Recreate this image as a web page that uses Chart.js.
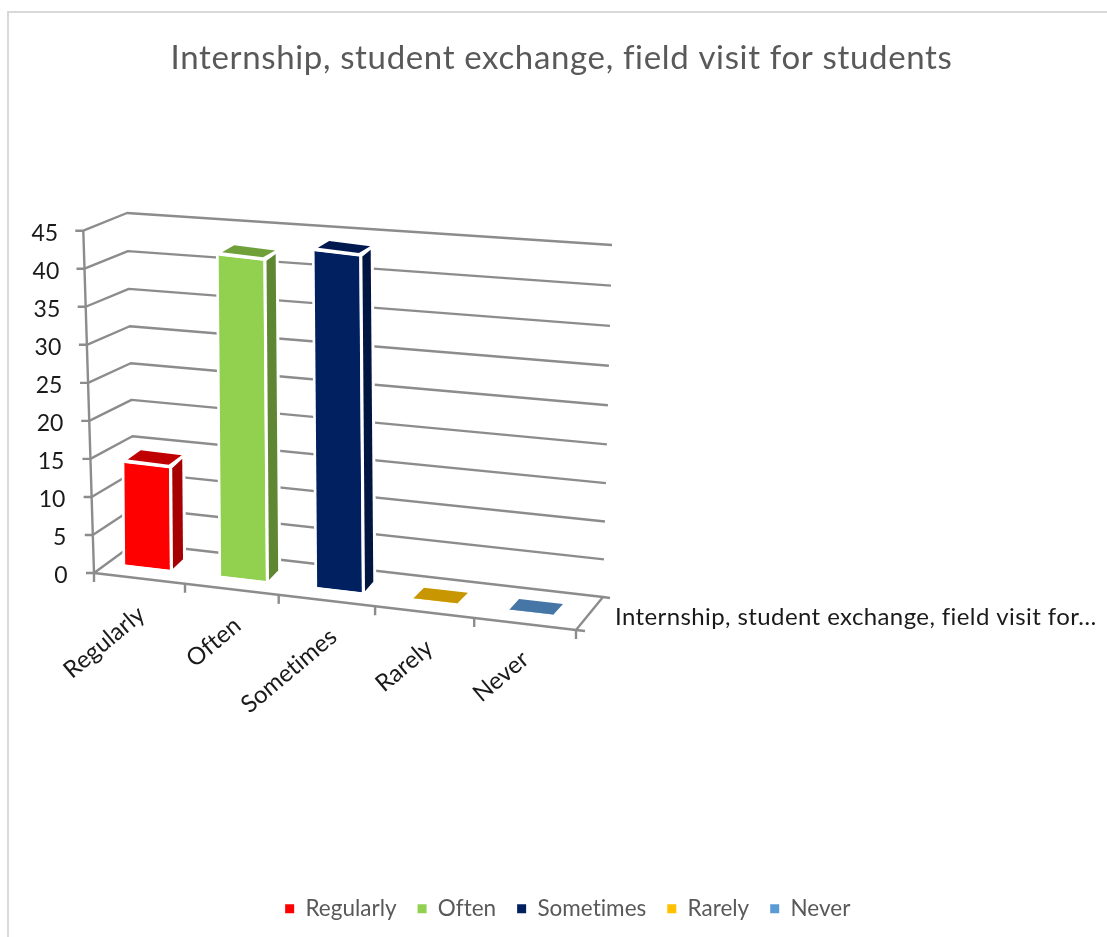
<!DOCTYPE html>
<html><head><meta charset="utf-8">
<script src="https://cdn.jsdelivr.net/npm/chart.js@4"></script>
<style>html,body{margin:0;padding:0;background:#fff;overflow:hidden}canvas{display:block}</style>
</head><body><canvas id="c" width="1107" height="937"></canvas>
<script>
const chartTitle = 'Internship, student exchange, field visit for students';
const seriesLabel = 'Internship, student exchange, field visit for…';
const categories = ['Regularly', 'Often', 'Sometimes', 'Rarely', 'Never'];
const values = [13, 41, 43, 0, 0];
const frontColors = ['#FF0000', '#92D050', '#002060', '#FFC000', '#5B9BD5'];
const topColors = ['#C00000', '#6FA03A', '#001A50', '#C79600', '#4676A6'];
const sideColors = ['#A60000', '#5F8633', '#00153F', '#A67D00', '#3B6388'];
const yTicks = { min: 0, max: 45, step: 5 };

const FONT = 'Lato';
const GRID = '#8c8c8c';
const K = 0.117, S = 1.03, LEAN = 0.008, BASE = 572, X0 = 190.3;
const proj = (x, y) => [x + LEAN * (y - BASE), K * (x - X0) + BASE + S * (y - BASE)];
const lerp = (a, b, t) => [a[0] + (b[0] - a[0]) * t, a[1] + (b[1] - a[1]) * t];
const wall = {
  A0: [94, 573], A1: [83.3, 230.7],
  B0: [135, 543], B1: [127, 213],
  C0: [603, 597], C1: [612, 245],
  F: [576, 630]
};
function poly(ctx, pts) {
  ctx.beginPath();
  pts.forEach((p, i) => i ? ctx.lineTo(p[0], p[1]) : ctx.moveTo(p[0], p[1]));
  ctx.closePath();
}
function seg(ctx, a, b) {
  ctx.beginPath(); ctx.moveTo(a[0], a[1]); ctx.lineTo(b[0], b[1]); ctx.stroke();
}
const depth = (x, h) => [13 - (x - 150) * 0.009, -10.5 + 4 * h / 340];

const scene = {
  id: 'scene',
  afterLayout(chart) {
    const lg = chart.legend;
    if (lg && !lg._shifted) { lg._shifted = true; lg.left += 6; lg.right += 6; }
  },
  beforeDraw(chart) {
    const { ctx, scales: { x: xs, y: ys } } = chart;
    ctx.letterSpacing = '0.01px';
    if (!xs._wrapped) {
      xs._wrapped = true;
      const ox = xs.getLabelItems.bind(xs);
      xs.getLabelItems = a => ox(a).map(it => {
        const t = it.options.translation;
        return { ...it, options: { ...it.options, translation: [t[0] - 6, t[1] + K * (t[0] - X0) + 26] } };
      });
      const oy = ys.getLabelItems.bind(ys);
      ys.getLabelItems = a => oy(a).map(it => {
        const t = it.options.translation;
        return { ...it, options: { ...it.options, translation: [t[0] - 9.3 * (BASE - t[1]) / 341, t[1] + 3] } };
      });
      const tb = chart.titleBlock, td = tb.draw.bind(tb);
      tb.draw = (...args) => { ctx.letterSpacing = '0.65px'; td(...args); ctx.letterSpacing = '0.01px'; };
    }
    ctx.save();
    ctx.strokeStyle = '#d9d9d9'; ctx.lineWidth = 2;
    ctx.beginPath(); ctx.moveTo(8, 937); ctx.lineTo(8, 12); ctx.lineTo(1107, 12); ctx.stroke();
    ctx.restore();
  },
  beforeDatasetsDraw(chart) {
    const { ctx, scales: { x: xs, y: ys } } = chart;
    ctx.save();
    ctx.strokeStyle = GRID; ctx.lineWidth = 2.4; ctx.lineJoin = 'round';
    ys.ticks.forEach(tk => {
      const t0 = (ys.bottom - ys.getPixelForValue(tk.value)) / (ys.bottom - ys.top);
      const t = t0 - 0.044 * t0 * (1 - t0);
      const a = lerp(wall.A0, wall.A1, t0), b = lerp(wall.B0, wall.B1, t), c = lerp(wall.C0, wall.C1, t);
      ctx.beginPath(); ctx.moveTo(a[0] - 8, a[1]); ctx.lineTo(a[0], a[1]); ctx.lineTo(b[0], b[1]); ctx.lineTo(c[0], c[1]); ctx.stroke();
    });
    seg(ctx, wall.A0, wall.A1);
    ctx.beginPath(); ctx.moveTo(wall.A0[0], wall.A0[1]); ctx.lineTo(wall.F[0], wall.F[1]); ctx.lineTo(wall.C0[0], wall.C0[1]); ctx.lineTo(wall.C0[0] + 7, wall.C0[1] + 1); ctx.stroke();
    seg(ctx, wall.F, [wall.F[0] + 9, wall.F[1] + 1]);
    for (let i = 0; i <= categories.length; i++) {
      const t0 = i / categories.length, t = t0 - 0.07 * t0 * (1 - t0);
      const p = lerp(wall.A0, wall.F, t);
      seg(ctx, p, [p[0], p[1] + 9]);
    }
    const meta = chart.getDatasetMeta(0);
    meta.data.forEach(el => {
      const r = el.getProps(['x', 'y', 'base', 'width']);
      if (Math.abs(r.base - r.y) < 0.5) return;
      const L = r.x - r.width / 2, R = r.x + r.width / 2;
      const pts = [proj(L, r.y), proj(R, r.y), proj(R, r.base), proj(L, r.base)];
      poly(ctx, pts);
      ctx.strokeStyle = '#fff'; ctx.lineWidth = 6; ctx.stroke();
      ctx.fillStyle = '#fff'; ctx.fill();
    });
    ctx.restore();
    ctx.save();
    ctx.transform(1, K, LEAN, S, -LEAN * BASE, BASE - S * BASE - K * X0);
  },
  afterDatasetsDraw(chart) {
    const { ctx } = chart;
    ctx.restore();
    ctx.save();
    ctx.lineJoin = 'round';
    const meta = chart.getDatasetMeta(0);
    meta.data.forEach((el, i) => {
      const r = el.getProps(['x', 'y', 'base', 'width']);
      const h = r.base - r.y;
      const L = r.x - r.width / 2, R = r.x + r.width / 2;
      const dT = depth(r.x, h), dB = depth(r.x, 0);
      if (h < 0.5) {
        const a = proj(L, r.y), b = proj(R, r.y);
        ctx.fillStyle = topColors[i];
        poly(ctx, [a, b, [b[0] + dB[0], b[1] + dB[1]], [a[0] + dB[0], a[1] + dB[1]]]);
        ctx.fill();
        return;
      }
      const ft = proj(R, r.y), fb = proj(R, r.base);
      const side = [[ft[0] + 3.5, ft[1]], [ft[0] + 3.5 + dT[0] - 3, ft[1] + dT[1]], [fb[0] + 3.5 + dB[0] - 3, fb[1] + dB[1]], [fb[0] + 3.5, fb[1] - 1]];
      poly(ctx, side); ctx.strokeStyle = '#fff'; ctx.lineWidth = 6; ctx.stroke();
      const tl = proj(L, r.y);
      const p1 = [tl[0] + 3, tl[1] - 3.5], p2 = [ft[0], ft[1] - 3.5];
      const topF = [p1, p2, [p2[0] + dT[0], p2[1] + dT[1]], [p1[0] + dT[0], p1[1] + dT[1]]];
      poly(ctx, topF); ctx.stroke();
      ctx.fillStyle = '#fff';
      poly(ctx, [tl, ft, side[0], side[1], topF[2], topF[3], p1]); ctx.fill();
      poly(ctx, side); ctx.fillStyle = sideColors[i]; ctx.fill();
      poly(ctx, topF); ctx.fillStyle = topColors[i]; ctx.fill();
    });
    ctx.restore();
  },
  afterDraw(chart) {
    const { ctx } = chart;
    ctx.save();
    ctx.font = '24px ' + FONT;
    ctx.letterSpacing = '0.4px';
    ctx.fillStyle = '#1a1a1a';
    ctx.textAlign = 'left'; ctx.textBaseline = 'middle';
    ctx.fillText(seriesLabel, 615, 617);
    ctx.restore();
  }
};

new Chart(document.getElementById('c'), {
  type: 'bar',
  data: {
    labels: categories,
    datasets: [{
      label: seriesLabel,
      data: values,
      backgroundColor: frontColors,
      borderWidth: 0,
      barThickness: 44
    }]
  },
  plugins: [scene],
  options: {
    responsive: false,
    animation: false,
    events: [],
    layout: { padding: { left: 16, right: 0, top: 0, bottom: 7 } },
    scales: {
      x: {
        grid: { display: false }, border: { display: false },
        ticks: { autoSkip: false, minRotation: 40, maxRotation: 40, padding: 0, color: '#1a1a1a', font: { family: FONT, size: 24 } },
        afterFit(s) { s.height = 304.4; }
      },
      y: {
        min: yTicks.min, max: yTicks.max,
        grid: { display: false, drawTicks: false }, border: { display: false },
        ticks: { stepSize: yTicks.step, padding: 32, color: '#1a1a1a', font: { family: FONT, size: 23 } },
        afterFit(s) { s.width = 83.5; }
      },
      y2: {
        position: 'right', min: 0, max: 1,
        grid: { display: false }, border: { display: false },
        ticks: { display: false },
        afterFit(s) { s.width = 527.5; }
      }
    },
    plugins: {
      tooltip: { enabled: false },
      title: {
        display: true, text: chartTitle, color: '#595959',
        font: { family: FONT, size: 33, weight: 'normal', lineHeight: 1.2 },
        padding: { top: 38.5, bottom: 152.9 }
      },
      legend: {
        position: 'bottom',
        labels: {
          color: '#595959', font: { family: FONT, size: 22.5 }, boxWidth: 9, boxHeight: 9, padding: 21,
          generateLabels: () => categories.map((c, i) => ({ text: c, fillStyle: frontColors[i], strokeStyle: frontColors[i], lineWidth: 0, index: i, fontColor: '#595959' }))
        }
      }
    }
  }
});
</script>
</body></html>
